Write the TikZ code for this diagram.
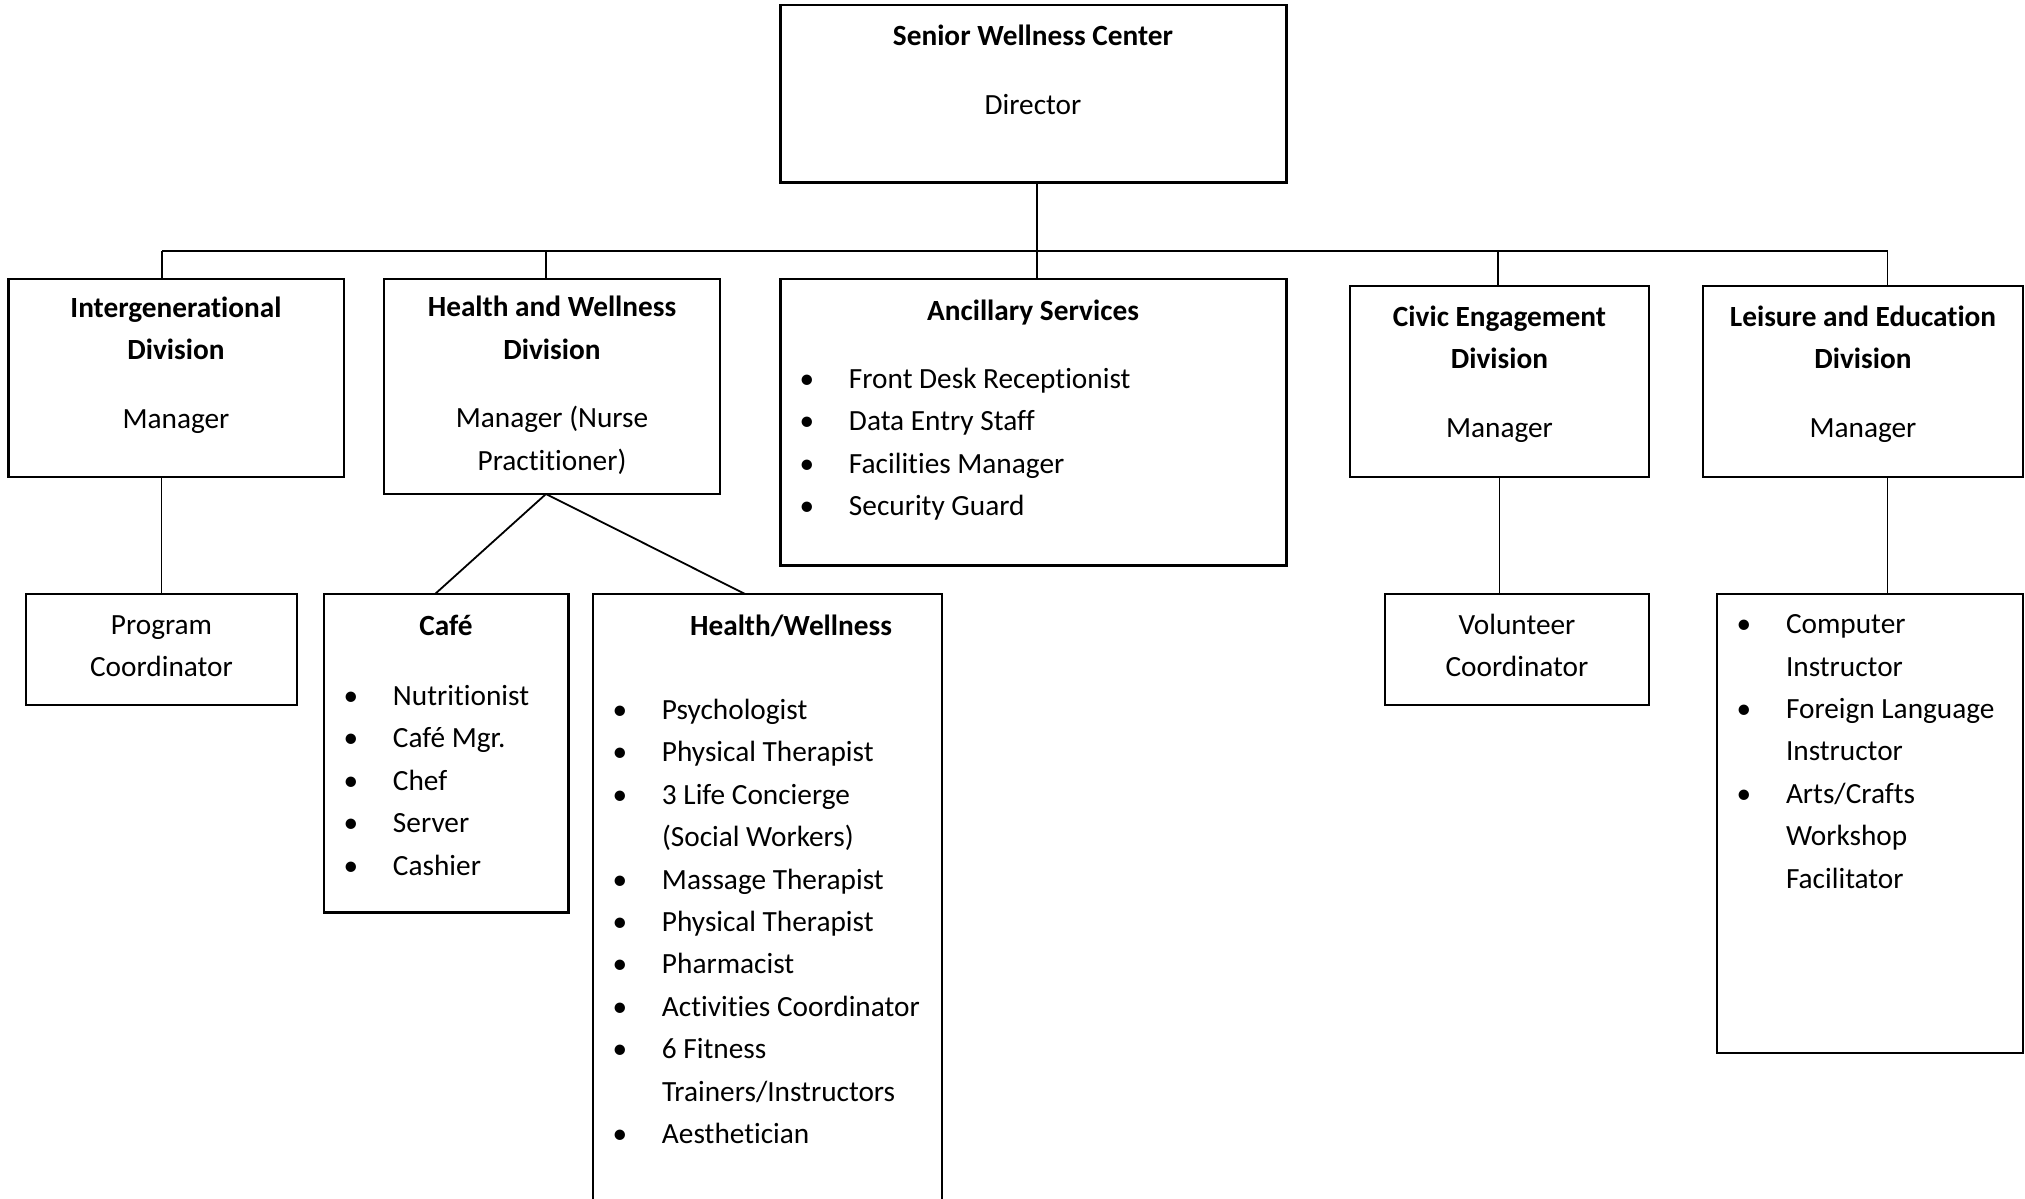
\documentclass[tikz,border=0pt]{standalone}
\usepackage{fontspec}
\setmainfont{Carlito}[Ligatures={NoCommon}]
\newcommand\bul{\makebox[0pt]{•}\hspace*{21pt}}
\newcommand\cont{\hspace*{21pt}}
\newcommand\bxnode[5]{\node[boxst, minimum width={(#4-#2)*0.5pt}, minimum height={(#5-#3)*0.5pt}] (#1) at ({(#2+#4)/2},{(#3+#5)/2}) {};}
\tikzset{
 boxst/.style={draw=black, line width=1.1pt, inner sep=0pt, outer sep=0pt},
 conn/.style={draw=black, line width=0.9pt},
 tx/.style={inner sep=0pt, outer sep=0pt, font=\fontsize{14.65}{21.2}\selectfont},
 ctr/.style={tx, align=center, anchor=base},
 lst/.style={tx, align=left, anchor=base west},
}
\begin{document}
\begin{tikzpicture}[x=0.5pt,y=-0.5pt]
\useasboundingbox (0,0) rectangle (2025,1199);
% boxes
\bxnode{top}{780.5}{5}{1286.5}{182.5}
\bxnode{ig}{8.5}{279}{344}{477}
\bxnode{hw}{384}{279}{720}{494}
\bxnode{anc}{780.5}{279}{1286.5}{565.5}
\bxnode{civ}{1350}{286}{1649}{477}
\bxnode{lei}{1703}{286}{2023}{477}
\bxnode{pc}{26}{594}{297}{705}
\bxnode{cafe}{324}{594}{568.5}{912.5}
\bxnode{vol}{1385}{594}{1649}{705}
\bxnode{leis}{1717}{594}{2023}{1053}
\node[boxst, draw=none, minimum width={(942-593)*0.5pt}, minimum height={(1199-594)*0.5pt}] (hws) at ({(593+942)/2},{(594+1199)/2}) {};
\draw[boxst] (hws.south west) -- (hws.north west) -- (hws.north east) -- (hws.south east);
% connectors
\coordinate (bL) at (162,251);
\coordinate (bHW) at (546,251);
\coordinate (bCiv) at (1498,251);
\coordinate (bR) at (1887.5,251);
\draw[conn] ([xshift=1.75pt]top.south) -- ([xshift=1.75pt]top.south |- anc.north);
\draw[conn] (bL) -- (bR);
\draw[conn] (bL) -- (bL |- ig.north);
\draw[conn] (bHW) -- (bHW |- hw.north);
\draw[conn] (bCiv) -- (bCiv |- civ.north);
\draw[conn] (bR) -- (bR |- lei.north);
\draw[conn] (pc.north) -- (pc.north |- ig.south);
\draw[conn] ([xshift=-3pt]hw.south) -- ([xshift=-5.6pt]cafe.north);
\draw[conn] ([xshift=-3pt]hw.south) -- ([xshift=-11.25pt]hws.north);
\draw[conn] (civ.south) -- (civ.south |- vol.north);
\draw[conn] (bR |- lei.south) -- (bR |- leis.north);
% texts (anchor = baseline of the last line)
\node[ctr] (topt) at (1033,114) {\textbf{Senior Wellness Center}\\[13pt]Director};
\node[ctr] (igt) at (176,428) {\textbf{Intergenerational}\\\textbf{Division}\\[13pt]Manager};
\node[ctr] (hwt) at (552,470) {\textbf{Health and Wellness}\\\textbf{Division}\\[13pt]Manager (Nurse\\Practitioner)};
\node[ctr] (anct) at (1033,320) {\textbf{Ancillary Services}};
\node[lst] (ancl) at (807,515.5) {\bul Front Desk Receptionist\\\bul Data Entry Staff\\\bul Facilities Manager\\\bul Security Guard};
\node[ctr] (civt) at (1499.5,437) {\textbf{Civic Engagement}\\\textbf{Division}\\[13pt]Manager};
\node[ctr] (leit) at (1863,437) {\textbf{Leisure and Education}\\\textbf{Division}\\[13pt]Manager};
\node[ctr] (pct) at (161.5,676.5) {Program\\Coordinator};
\node[ctr] (cafet) at (446,635) {\textbf{Café}};
\node[lst] (cafel) at (351,875) {\bul Nutritionist\\\bul Café Mgr.\\\bul Chef\\\bul Server\\\bul Cashier};
\node[ctr] (hwst) at (791,635) {\textbf{Health/Wellness}};
\node[lst] (hwsl) at (620,1143.5) {\bul Psychologist\\\bul Physical Therapist\\\bul 3 Life Concierge\\\cont (Social Workers)\\\bul Massage Therapist\\\bul Physical Therapist\\\bul Pharmacist\\\bul Activities Coordinator\\\bul 6 Fitness\\\cont Trainers/Instructors\\\bul Aesthetician};
\node[ctr] (volt) at (1517,676.5) {Volunteer\\Coordinator};
\node[lst] (leisl) at (1744,888) {\bul Computer\\\cont Instructor\\\bul Foreign Language\\\cont Instructor\\\bul Arts/Crafts\\\cont Workshop\\\cont Facilitator};
\end{tikzpicture}
\end{document}
